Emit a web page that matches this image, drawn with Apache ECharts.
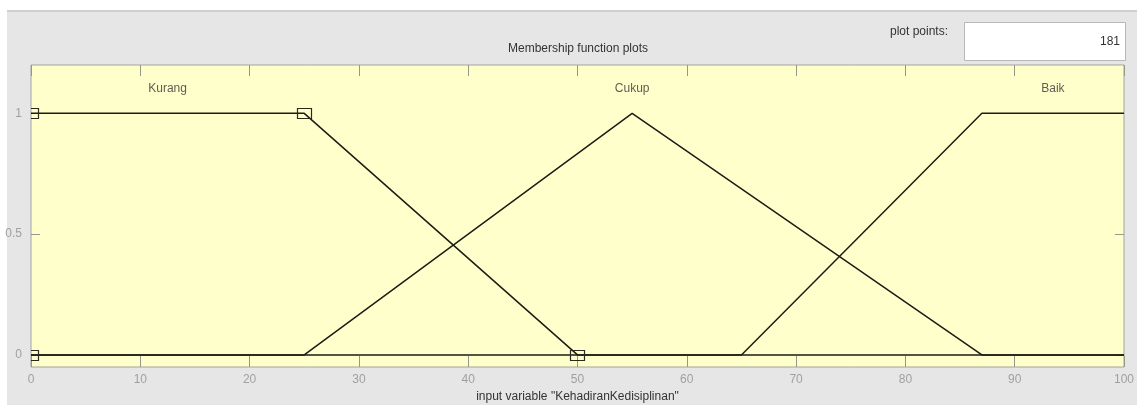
<!DOCTYPE html>
<html>
<head>
<meta charset="utf-8">
<script src="https://cdn.jsdelivr.net/npm/echarts@6/dist/echarts.min.js"></script>
<style>
  html, body { margin: 0; padding: 0; background: #ffffff; }
  #panel {
    position: absolute; left: 7px; top: 10px; width: 1130px; height: 395px;
    background: #e6e6e6; border-top: 2px solid #cfcfcf; box-sizing: border-box;
  }
  #chart { position: absolute; left: 0; top: 0; width: 1137px; height: 410px; }
</style>
</head>
<body>
<div id="panel"></div>
<div id="chart"></div>
<script>
// Membership functions of the input variable "KehadiranKedisiplinan"
const kurangX = [0, 25, 50, 100];
const kurangY = [1, 1, 0, 0];
const cukupX = [0, 25, 55, 87, 100];
const cukupY = [0, 0, 1, 0, 0];
const baikX = [0, 65, 87, 100];
const baikY = [0, 0, 1, 1];

// vertices of the selected function (Kurang, trapmf [0 0 25 50])
const selectedX = [0, 0, 25, 50];
const selectedY = [0, 1, 1, 0];

// function names and where they are written
const mfNames = ['Kurang', 'Cukup', 'Baik'];
const mfLabelX = [12.5, 55, 93.5];
const mfLabelY = 1.1;

const yTicks = [0, 0.5, 1];
const plotPoints = 181;

const zip = (xs, ys) => xs.map((x, i) => [x, ys[i]]);

const lineSeries = (name, xs, ys) => ({
  name, type: 'line', data: zip(xs, ys),
  showSymbol: false, symbol: 'none', clip: true,
  lineStyle: { color: '#1c1c14', width: 1.5 }, z: 3, animation: false
});

const font = 'Liberation Sans, Arial, sans-serif';
const tickColor = '#97978c';
const frameColor = '#a3a39a';
const yTickLen = 9;

const xAxisBase = {
  type: 'value', min: 0, max: 100, interval: 10,
  axisLine: { show: false, onZero: false },
  axisTick: { show: true, inside: true, length: 11, lineStyle: { color: tickColor } },
  splitLine: { show: false }
};

const chart = echarts.init(document.getElementById('chart'), null, { renderer: 'canvas' });
chart.setOption({
  backgroundColor: 'transparent',
  animation: false,
  grid: {
    left: 31, right: 9, top: 65, bottom: 43,
    show: true, backgroundColor: '#ffffcc', borderColor: frameColor, borderWidth: 1
  },
  xAxis: [Object.assign({}, xAxisBase, {
    position: 'bottom',
    axisLabel: { color: '#a0a0a0', fontSize: 12, fontFamily: font, margin: 7 },
    name: 'input variable "KehadiranKedisiplinan"', nameLocation: 'middle', nameGap: 24,
    nameTextStyle: { color: '#333333', fontSize: 12, fontFamily: font }
  }), Object.assign({}, xAxisBase, {
    position: 'top', axisLabel: { show: false }
  })],
  yAxis: {
    type: 'value', min: -0.05, max: 1.2, position: 'left',
    axisLine: { show: false, onZero: false },
    axisTick: { show: false },
    splitLine: { show: false },
    axisLabel: { color: '#a0a0a0', fontSize: 12, fontFamily: font, margin: 9, customValues: yTicks }
  },
  series: [
    {
      // y tick marks on the left and right edges of the plot box
      name: 'yTicks', type: 'custom', silent: true, z: 1,
      data: yTicks.map(v => [0, v]),
      renderItem: (params, api) => {
        const cs = params.coordSys;
        const y = Math.round(api.coord([0, api.value(1)])[1]);
        const style = { fill: tickColor };
        return {
          type: 'group',
          children: [
            { type: 'rect', shape: { x: Math.round(cs.x), y: y, width: yTickLen, height: 1 }, style },
            { type: 'rect', shape: { x: Math.round(cs.x + cs.width) - yTickLen, y: y, width: yTickLen, height: 1 }, style }
          ]
        };
      }
    },
    lineSeries('Kurang', kurangX, kurangY),
    lineSeries('Cukup', cukupX, cukupY),
    lineSeries('Baik', baikX, baikY),
    {
      // hollow square handles on the selected function's vertices, clipped to the plot
      name: 'vertices', type: 'custom', clip: true, z: 6, silent: true,
      data: zip(selectedX, selectedY),
      renderItem: (params, api) => {
        const p = api.coord([api.value(0), api.value(1)]);
        return {
          type: 'rect',
          shape: { x: Math.round(p[0]) - 7 + 0.5, y: Math.round(p[1]) - 5 + 0.5, width: 14, height: 10 },
          style: { fill: 'none', stroke: '#2a2a22', lineWidth: 1.2 }
        };
      }
    },
    {
      name: 'names', type: 'scatter', symbolSize: 0, silent: true,
      data: mfNames.map((n, i) => ({ name: n, value: [mfLabelX[i], mfLabelY] })),
      label: {
        show: true, position: 'inside', formatter: p => p.name,
        color: '#333333', fontSize: 12, fontFamily: font
      }
    }
  ],
  graphic: [
    {
      type: 'text', z: 10, x: 578, y: 49,
      style: { text: 'Membership function plots', align: 'center', verticalAlign: 'middle',
               fill: '#333333', font: '12px ' + font }
    },
    {
      type: 'text', z: 10, x: 948, y: 32,
      style: { text: 'plot points:', align: 'right', verticalAlign: 'middle',
               fill: '#333333', font: '12px ' + font }
    },
    {
      type: 'rect', z: 10, shape: { x: 964.5, y: 22.5, width: 161, height: 38 },
      style: { fill: '#ffffff', stroke: '#b8b8b8', lineWidth: 1 }
    },
    {
      type: 'text', z: 11, x: 1120, y: 42,
      style: { text: String(plotPoints), align: 'right', verticalAlign: 'middle',
               fill: '#333333', font: '12px ' + font }
    }
  ]
});
</script>
</body>
</html>
